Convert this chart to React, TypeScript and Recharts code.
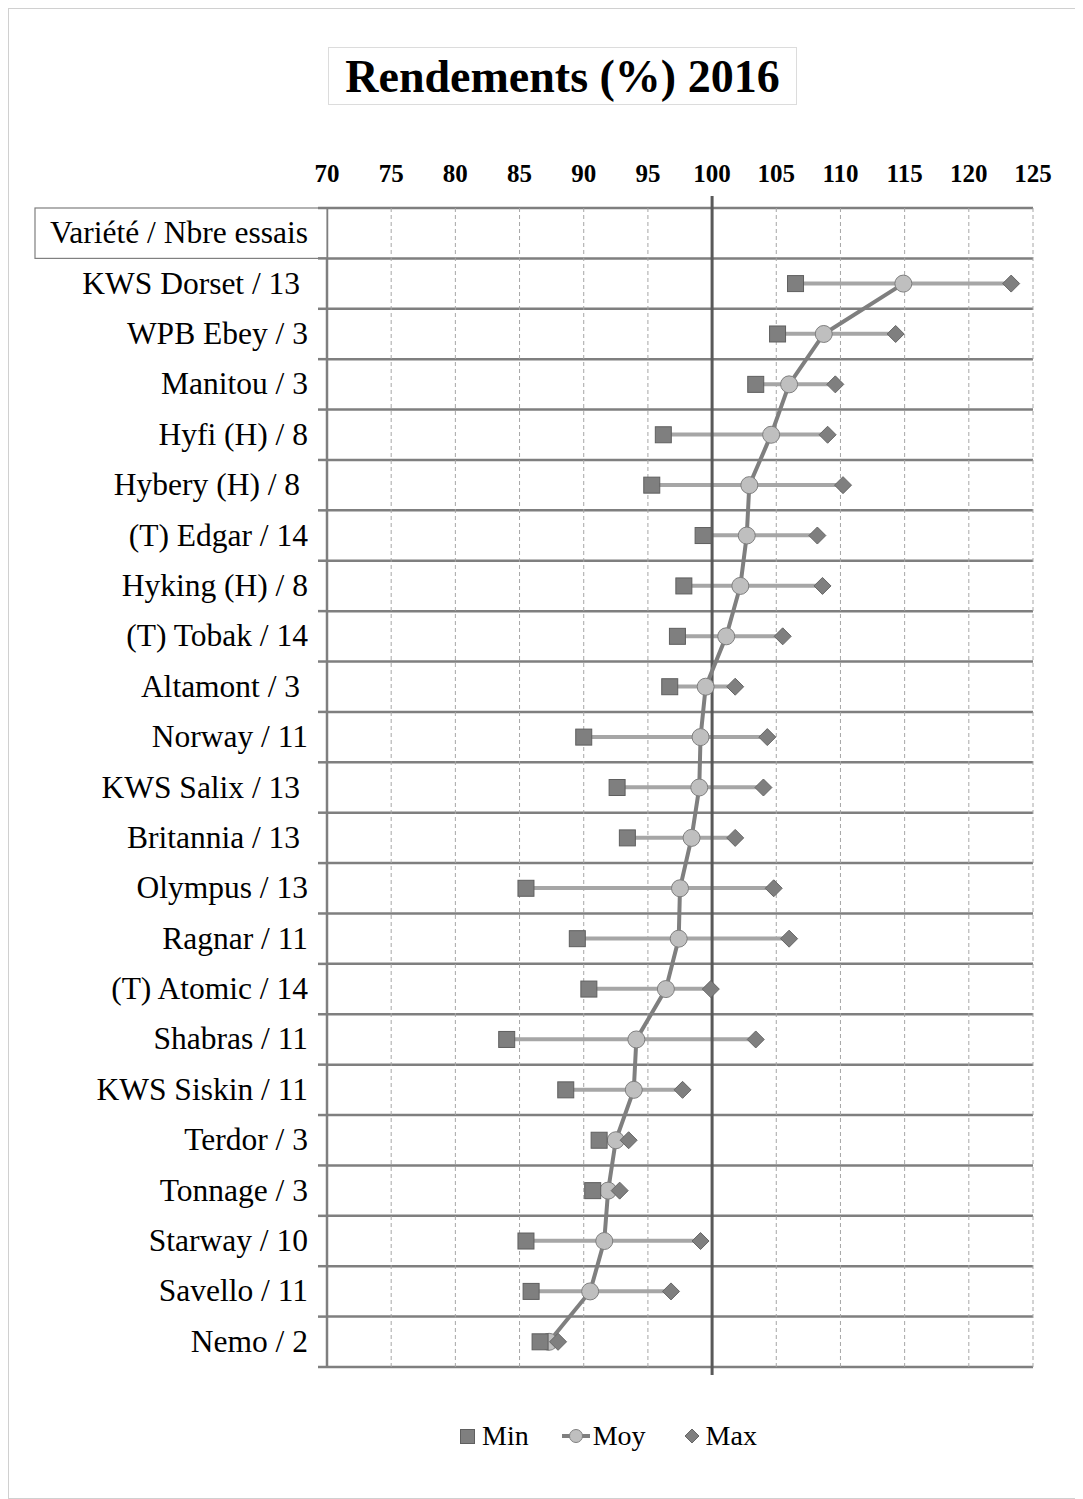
import {
  ComposedChart,
  Bar,
  Line,
  XAxis,
  YAxis,
  CartesianGrid,
  ReferenceLine,
} from "recharts";

const varietes = [
  "Variété / Nbre essais",
  "KWS Dorset / 13 ",
  "WPB Ebey / 3",
  "Manitou / 3",
  "Hyfi (H) / 8",
  "Hybery (H) / 8 ",
  "(T) Edgar / 14",
  "Hyking (H) / 8",
  "(T) Tobak / 14",
  "Altamont / 3 ",
  "Norway / 11",
  "KWS Salix / 13 ",
  "Britannia / 13 ",
  "Olympus / 13",
  "Ragnar / 11",
  "(T) Atomic / 14",
  "Shabras / 11",
  "KWS Siskin / 11",
  "Terdor / 3",
  "Tonnage / 3",
  "Starway / 10",
  "Savello / 11",
  "Nemo / 2",
];

const minVals = [
  null, 106.5, 105.1, 103.4, 96.2, 95.3, 99.3, 97.8, 97.3, 96.7, 90.0,
  92.6, 93.4, 85.5, 89.5, 90.4, 84.0, 88.6, 91.2, 90.7, 85.5, 85.9, 86.6,
];

const moyVals = [
  null, 114.9, 108.7, 106.0, 104.6, 102.9, 102.7, 102.2, 101.1, 99.5, 99.1,
  99.0, 98.4, 97.5, 97.4, 96.4, 94.1, 93.9, 92.5, 91.9, 91.6, 90.5, 87.3,
];

const maxVals = [
  null, 123.3, 114.3, 109.6, 109.0, 110.2, 108.2, 108.6, 105.5, 101.8, 104.3,
  104.0, 101.8, 104.8, 106.0, 99.9, 103.4, 97.7, 93.5, 92.8, 99.1, 96.8, 88.0,
];

const xTicks = [70, 75, 80, 85, 90, 95, 100, 105, 110, 115, 120, 125];

const data = varietes.map((name, i) => ({
  name,
  min: minVals[i],
  moy: moyVals[i],
  max: maxVals[i],
}));

const W = 1075;
const H = 1491;
const MARGIN = { top: 160, right: 50, bottom: 132, left: 0 };
const X_AXIS_H = 40;
const Y_AXIS_W = 319;
const PLOT_H = H - MARGIN.top - MARGIN.bottom - X_AXIS_H;
const BAND = PLOT_H / varietes.length;

const FONT = "'Liberation Serif', 'Times New Roman', serif";
const DARK = "#7f7f7f";
const LIGHT = "#bfbfbf";

function XTick(props: any) {
  const { x, y, payload } = props;
  return (
    <text
      x={x}
      y={y - 26}
      textAnchor="middle"
      fontFamily={FONT}
      fontSize={25}
      fontWeight="bold"
      fill="#000"
    >
      {payload.value}
    </text>
  );
}

function YTick(props: any) {
  const { x, y, payload, index } = props;
  const last = index === varietes.length - 1;
  return (
    <g>
      {index === 0 && (
        <rect
          x={27}
          y={y - BAND / 2}
          width={x - 27}
          height={BAND}
          fill="#fff"
          stroke="#7f7f7f"
          strokeWidth={1.2}
        />
      )}
      <line x1={x - 9} x2={x} y1={y - BAND / 2} y2={y - BAND / 2} stroke={DARK} strokeWidth={2.5} />
      {last && (
        <line x1={x - 9} x2={x} y1={y + BAND / 2} y2={y + BAND / 2} stroke={DARK} strokeWidth={2.5} />
      )}
      <text
        x={x - 19}
        y={y + 10}
        textAnchor="end"
        fontFamily={FONT}
        fontSize={31.5}
        fill="#000"
        style={{ whiteSpace: "pre" }}
      >
        {payload.value}
      </text>
    </g>
  );
}

function SquareDot(props: any) {
  const { cx, cy, value, index } = props;
  if (cx == null || cy == null || value == null) return <g key={`mn-${index}`} />;
  return (
    <rect
      key={`mn-${index}`}
      x={cx - 8}
      y={cy - 8}
      width={16}
      height={16}
      fill={DARK}
      stroke="#5f5f5f"
      strokeWidth={1}
    />
  );
}

function DiamondDot(props: any) {
  const { cx, cy, value, index } = props;
  if (cx == null || cy == null || value == null) return <g key={`mx-${index}`} />;
  return (
    <polygon
      key={`mx-${index}`}
      points={`${cx},${cy - 8.5} ${cx + 8.5},${cy} ${cx},${cy + 8.5} ${cx - 8.5},${cy}`}
      fill={DARK}
      stroke="#666"
      strokeWidth={1}
    />
  );
}

function CircleDot(props: any) {
  const { cx, cy, value, index } = props;
  if (cx == null || cy == null || value == null) return <g key={`my-${index}`} />;
  return (
    <circle key={`my-${index}`} cx={cx} cy={cy} r={8.5} fill={LIGHT} stroke={DARK} strokeWidth={1} />
  );
}

function rowLines({ offset }: any) {
  const n = varietes.length;
  return Array.from({ length: n + 1 }, (_, i) => offset.top + (i * offset.height) / n);
}

function Legend() {
  const item = { display: "flex", alignItems: "center" } as const;
  return (
    <div
      style={{
        position: "absolute",
        left: 452,
        top: 1410,
        height: 36,
        display: "flex",
        alignItems: "center",
        fontFamily: FONT,
        fontSize: 28,
        color: "#000",
      }}
    >
      <div style={item}>
        <svg width={15} height={15} style={{ marginRight: 7 }}>
          <rect x={0.5} y={0.5} width={14} height={14} fill={DARK} stroke="#5f5f5f" />
        </svg>
        <span>Min</span>
      </div>
      <div style={{ ...item, marginLeft: 33 }}>
        <svg width={28} height={16} style={{ marginRight: 3 }}>
          <line x1={0} x2={28} y1={8} y2={8} stroke={DARK} strokeWidth={4} />
          <circle cx={14} cy={8} r={6.5} fill={LIGHT} stroke={DARK} strokeWidth={1} />
        </svg>
        <span>Moy</span>
      </div>
      <div style={{ ...item, marginLeft: 38 }}>
        <svg width={16} height={16} style={{ marginRight: 6 }}>
          <polygon points="8,1 15,8 8,15 1,8" fill={DARK} stroke="#666" />
        </svg>
        <span>Max</span>
      </div>
    </div>
  );
}

export default function App() {
  return (
    <div
      style={{
        position: "relative",
        width: W,
        height: H,
        outline: "1px solid #d0d0d0",
        outlineOffset: -1,
        background: "#fff",
      }}
    >
      <div
        style={{
          position: "absolute",
          left: 320,
          top: 39,
          width: 467,
          height: 56,
          border: "1px solid #dcdcdc",
          display: "flex",
          alignItems: "center",
          justifyContent: "center",
          fontFamily: FONT,
          fontSize: 46,
          fontWeight: "bold",
          color: "#000",
        }}
      >
        Rendements (%) 2016
      </div>

      <ComposedChart width={W} height={H} data={data} layout="vertical" margin={MARGIN}>
        <CartesianGrid
          vertical={false}
          stroke={DARK}
          strokeWidth={2.5}
          horizontalCoordinatesGenerator={rowLines}
        />
        <CartesianGrid horizontal={false} stroke="#a6a6a6" strokeDasharray="4 3" />
        <XAxis
          type="number"
          orientation="top"
          domain={[70, 125]}
          ticks={xTicks}
          height={X_AXIS_H}
          axisLine={false}
          tickLine={false}
          tickSize={0}
          tickMargin={0}
          tick={<XTick />}
          allowDataOverflow
        />
        <YAxis
          type="category"
          dataKey="name"
          width={Y_AXIS_W}
          interval={0}
          axisLine={{ stroke: DARK, strokeWidth: 2.5 }}
          tickLine={false}
          tickSize={0}
          tickMargin={0}
          tick={<YTick />}
        />
        <ReferenceLine
          x={100}
          stroke="#595959"
          strokeWidth={3}
          shape={(p: any) => (
            <line x1={p.x1} x2={p.x2} y1={p.y1 - 12} y2={p.y2 + 8} stroke="#595959" strokeWidth={3} />
          )}
        />
        <Bar
          dataKey={(d: any) => (d.min == null ? null : [d.min, d.max])}
          barSize={4}
          fill="#a6a6a6"
          isAnimationActive={false}
        />
        <Line
          dataKey="moy"
          stroke={DARK}
          strokeWidth={4}
          dot={CircleDot}
          activeDot={false}
          isAnimationActive={false}
        />
        <Line
          dataKey="min"
          stroke="none"
          dot={SquareDot}
          activeDot={false}
          isAnimationActive={false}
        />
        <Line
          dataKey="max"
          stroke="none"
          dot={DiamondDot}
          activeDot={false}
          isAnimationActive={false}
        />
      </ComposedChart>

      <Legend />
    </div>
  );
}
